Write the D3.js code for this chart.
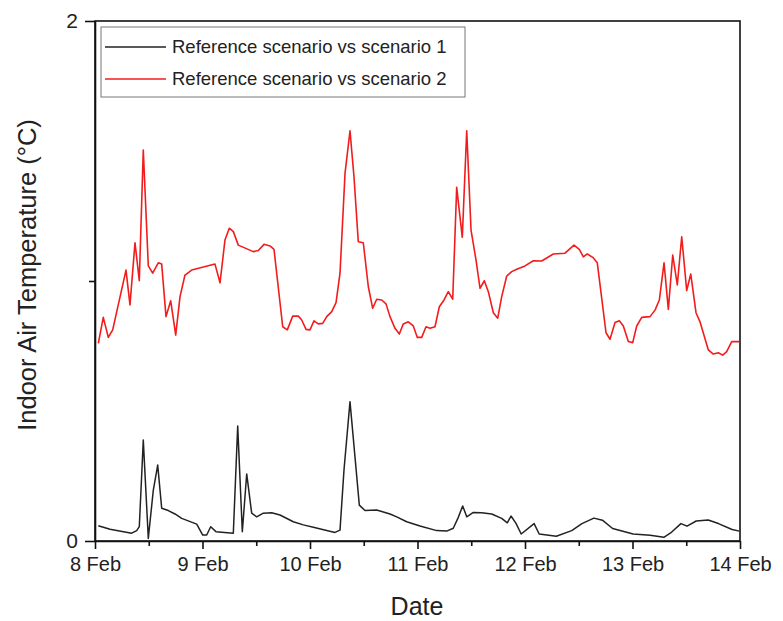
<!DOCTYPE html>
<html><head><meta charset="utf-8">
<script src="https://cdn.jsdelivr.net/npm/d3@7"></script>
<style>body{margin:0;background:#fff}svg{display:block}</style>
</head><body>
<svg id="c" width="783" height="621"></svg>
<script>
// hours since 8 Feb 00:00
const redHours = [0.74,1.85,2.97,3.95,6.92,7.81,8.93,9.89,10.78,11.90,12.88,14.13,14.89,15.85,16.90,18.02,18.98,20.09,21.59,26.79,27.91,29.02,29.98,30.88,31.99,35.34,36.46,37.73,39.07,39.96,41.91,42.93,44.14,45.39,46.15,47.11,48.00,48.89,49.85,50.84,51.73,52.85,53.81,54.70,55.82,56.93,57.82,58.78,59.90,61.02,62.00,62.89,64.01,64.97,65.86,66.98,67.94,68.83,69.95,71.06,71.96,72.94,73.90,74.79,75.91,76.87,77.92,78.88,79.86,80.75,82.00,82.99,83.95,85.06,85.96,86.92,87.81,88.93,89.91,90.80,91.92,93.03,94.15,96.00,97.85,99.73,102.32,104.93,106.94,108.12,109.02,109.91,111.12,112.14,114.09,114.98,116.10,117.06,117.95,119.07,120.05,120.94,122.06,123.91,125.03,125.99,127.04,128.00,128.98,130.00,130.99,132.10,133.00,134.18,135.07,136.93,138.04,139.16,140.14,141.03,142.15,143.85];
const redValues = [0.760,0.860,0.783,0.812,1.042,0.908,1.147,1.001,1.504,1.058,1.030,1.070,1.065,0.863,0.924,0.792,0.940,1.023,1.042,1.065,0.993,1.158,1.203,1.190,1.138,1.113,1.117,1.141,1.135,1.122,0.824,0.812,0.865,0.865,0.850,0.814,0.812,0.847,0.835,0.837,0.863,0.882,0.917,1.030,1.414,1.578,1.401,1.151,1.147,0.978,0.895,0.930,0.927,0.912,0.863,0.818,0.796,0.835,0.843,0.827,0.783,0.783,0.824,0.818,0.824,0.901,0.927,0.959,0.930,1.360,1.168,1.578,1.196,1.081,0.972,1.001,0.959,0.878,0.857,0.940,1.019,1.036,1.045,1.058,1.078,1.077,1.104,1.107,1.138,1.122,1.093,1.104,1.091,1.070,0.801,0.776,0.840,0.847,0.827,0.767,0.763,0.827,0.860,0.863,0.888,0.927,1.070,0.891,1.100,0.985,1.170,0.963,1.027,0.878,0.843,0.735,0.719,0.724,0.715,0.728,0.767,0.767];
const blackHours = [0.74,3.35,8.19,9.31,9.89,10.78,11.90,13.02,14.00,14.89,16.36,17.86,19.36,22.71,24.05,24.94,25.83,27.01,30.88,31.86,32.89,33.87,34.98,36.10,37.57,39.45,41.30,44.27,46.50,48.74,53.58,54.70,55.59,56.93,58.04,59.01,60.28,62.89,65.86,67.36,69.59,72.56,76.29,78.52,79.99,81.11,82.09,82.99,84.46,86.33,88.57,90.80,92.05,92.88,93.99,95.15,98.03,99.17,102.99,106.43,108.71,111.38,113.28,115.56,120.14,123.95,126.99,128.51,130.81,132.17,134.22,136.90,139.18,142.24,143.85];
const blackValues = [0.059,0.045,0.030,0.040,0.055,0.388,0.010,0.196,0.292,0.126,0.117,0.104,0.087,0.065,0.023,0.023,0.055,0.036,0.030,0.442,0.036,0.258,0.107,0.093,0.107,0.109,0.100,0.074,0.062,0.053,0.033,0.042,0.273,0.536,0.324,0.138,0.117,0.119,0.104,0.093,0.074,0.058,0.040,0.038,0.049,0.091,0.135,0.093,0.110,0.109,0.104,0.087,0.070,0.096,0.068,0.027,0.067,0.027,0.018,0.040,0.067,0.088,0.080,0.048,0.027,0.022,0.014,0.031,0.067,0.057,0.077,0.081,0.067,0.044,0.038];
const dayTicks = [0,24,48,72,96,120,144];
const dayLabels = ["8 Feb","9 Feb","10 Feb","11 Feb","12 Feb","13 Feb","14 Feb"];
const halfDayTicks = [12,36,60,84,108,132];
const yMajor = [0,2];
const yMinor = [1];
const seriesNames = ["Reference scenario vs scenario 1","Reference scenario vs scenario 2"];
const seriesColors = ["#222222","#f21c1c"];

const svg = d3.select("#c");
const L=95,R=740,T=21,B=541;
const x = d3.scaleLinear().domain([0,144]).range([L,R]);
const y = d3.scaleLinear().domain([0,2]).range([B,T]);
const font = "Liberation Sans, Arial, sans-serif";

// frame
svg.append("rect").attr("x",L).attr("y",T).attr("width",R-L).attr("height",B-T)
  .attr("fill","none").attr("stroke","#111").attr("stroke-width",1.6);

// x axis
const xa = svg.append("g").attr("transform",`translate(0,${B})`)
  .call(d3.axisBottom(x).tickValues(dayTicks).tickFormat((d,i)=>dayLabels[i]).tickSize(8).tickSizeOuter(0).tickPadding(8));
xa.select(".domain").attr("stroke","#111").attr("stroke-width",1.6);
xa.selectAll(".tick line").attr("stroke","#111").attr("stroke-width",1.6);
xa.selectAll("text").attr("font-family",font).attr("font-size",20).attr("fill","#222");
const xm = svg.append("g").attr("transform",`translate(0,${B})`)
  .call(d3.axisBottom(x).tickValues(halfDayTicks).tickFormat("").tickSize(5).tickSizeOuter(0));
xm.select(".domain").remove();
xm.selectAll(".tick line").attr("stroke","#111").attr("stroke-width",1.6);

// y axis
const ya = svg.append("g").attr("transform",`translate(${L},0)`)
  .call(d3.axisLeft(y).tickValues(yMajor).tickFormat(d3.format("d")).tickSize(10).tickSizeOuter(0).tickPadding(7));
ya.select(".domain").attr("stroke","#111").attr("stroke-width",1.6);
ya.selectAll(".tick line").attr("stroke","#111").attr("stroke-width",1.6);
ya.selectAll("text").attr("font-family",font).attr("font-size",21).attr("fill","#222");
const ym = svg.append("g").attr("transform",`translate(${L},0)`)
  .call(d3.axisLeft(y).tickValues(yMinor).tickFormat("").tickSize(6).tickSizeOuter(0));
ym.select(".domain").remove();
ym.selectAll(".tick line").attr("stroke","#111").attr("stroke-width",1.6);

// lines
const line = d3.line().x(d=>x(d[0])).y(d=>y(d[1]));
const black = blackHours.map((h,i)=>[h,blackValues[i]]);
const red = redHours.map((h,i)=>[h,redValues[i]]);
svg.append("path").datum(black).attr("d",line).attr("fill","none").attr("stroke",seriesColors[0]).attr("stroke-width",1.5).attr("stroke-linejoin","round");
svg.append("path").datum(red).attr("d",line).attr("fill","none").attr("stroke",seriesColors[1]).attr("stroke-width",1.6).attr("stroke-linejoin","round");

// legend
svg.append("rect").attr("x",101).attr("y",27).attr("width",364).attr("height",70)
  .attr("fill","#fff").attr("stroke","#777").attr("stroke-width",1);
seriesNames.forEach((n,i)=>{
  const yy = 47 + i*32;
  svg.append("line").attr("x1",105).attr("x2",166).attr("y1",yy).attr("y2",yy)
    .attr("stroke",seriesColors[i]).attr("stroke-width",1.5);
  svg.append("text").attr("x",172).attr("y",yy+6).text(n)
    .attr("font-family",font).attr("font-size",18.5).attr("fill","#222");
});

// axis titles
svg.append("text").attr("transform","translate(36,275) rotate(-90)").attr("text-anchor","middle")
  .attr("font-family",font).attr("font-size",25.5).attr("fill","#222").text("Indoor Air Temperature (°C)");
svg.append("text").attr("x",417).attr("y",615).attr("text-anchor","middle")
  .attr("font-family",font).attr("font-size",25).attr("fill","#222").text("Date");
</script>
</body></html>
